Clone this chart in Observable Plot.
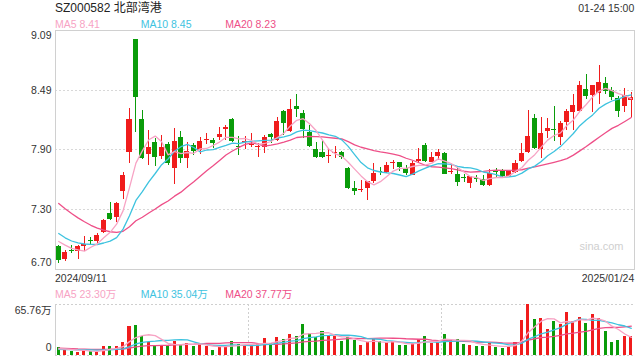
<!DOCTYPE html>
<html><head><meta charset="utf-8">
<script src="https://cdn.jsdelivr.net/npm/d3@7"></script>
<script src="https://cdn.jsdelivr.net/npm/@observablehq/plot@0.6"></script>
<style>
body{margin:0;background:#fff;}
#wrap{position:relative;width:640px;height:360px;overflow:hidden;font-family:"Liberation Sans",Arial,"Noto Sans CJK SC",sans-serif;}
.t{position:absolute;white-space:nowrap;font-size:10.5px;line-height:10.5px;z-index:2;color:#333;}
#wrap svg{position:absolute;left:0;}
</style></head><body><div id="wrap"></div>
<script>
// ---- data ----
const openP  = [6.93,6.80,6.885,6.88,6.93,6.99,6.98,7.07,7.26,7.22,7.48,7.87,9.00,8.20,7.85,7.97,7.83,7.95,7.71,8.02,
                7.81,7.94,7.89,7.99,7.99,8.02,8.10,8.20,7.93,7.97,7.94,7.92,7.92,8.05,7.99,8.28,8.08,8.33,8.26,8.07,
                7.90,7.87,7.83,7.86,7.87,7.71,7.51,7.49,7.51,7.58,7.675,7.67,7.76,7.77,7.71,7.64,7.78,7.94,7.77,7.83,
                7.86,7.67,7.65,7.615,7.56,7.605,7.60,7.54,7.675,7.68,7.63,7.67,7.78,7.87,8.21,7.90,8.08,8.095,8.02,8.17,
                8.27,8.28,8.50,8.44,8.46,8.56,8.49,8.41,8.33,8.39];
const highP  = [6.94,6.89,6.94,6.94,7.03,7.02,7.06,7.20,7.37,7.37,7.67,8.31,9.00,8.29,8.09,8.01,8.04,7.97,8.11,8.08,
                7.97,7.96,8.02,8.06,8.01,8.12,8.14,8.21,8.03,8.03,8.06,7.96,8.04,8.06,8.22,8.29,8.40,8.45,8.29,8.14,
                7.97,7.98,7.91,7.93,7.88,7.72,7.58,7.59,7.58,7.76,7.72,7.77,7.79,7.77,7.74,7.78,7.91,7.96,7.87,7.90,
                7.87,7.74,7.71,7.65,7.63,7.64,7.64,7.70,7.71,7.70,7.69,7.79,7.96,8.29,8.25,8.22,8.21,8.33,8.18,8.30,
                8.45,8.58,8.65,8.54,8.74,8.62,8.52,8.43,8.51,8.47];
const lowP   = [6.76,6.78,6.86,6.80,6.88,6.94,6.96,7.06,7.19,7.17,7.40,7.76,8.07,7.80,7.74,7.73,7.80,7.74,7.55,7.76,
                7.71,7.84,7.85,7.95,7.91,7.99,7.99,7.97,7.84,7.90,7.92,7.82,7.86,7.96,7.98,8.04,8.07,8.22,8.01,7.92,
                7.81,7.81,7.76,7.81,7.80,7.50,7.44,7.47,7.39,7.56,7.64,7.66,7.70,7.68,7.64,7.64,7.76,7.77,7.77,7.79,
                7.65,7.65,7.53,7.57,7.51,7.57,7.53,7.53,7.62,7.62,7.62,7.66,7.77,7.86,7.90,7.81,8.01,7.98,7.94,8.09,
                8.09,8.27,8.40,8.27,8.35,8.45,8.39,8.22,8.27,8.22];
const closeP = [6.79,6.87,6.88,6.93,6.95,6.98,7.04,7.19,7.20,7.36,7.64,8.20,8.42,7.81,7.92,7.82,7.92,7.76,7.98,7.81,
                7.88,7.88,7.98,8.00,7.96,8.05,8.12,7.98,7.92,7.98,7.95,7.93,8.02,8.02,8.18,8.16,8.30,8.30,8.10,7.93,
                7.82,7.82,7.84,7.87,7.82,7.51,7.48,7.50,7.58,7.66,7.67,7.74,7.77,7.72,7.66,7.76,7.80,7.78,7.82,7.87,
                7.65,7.68,7.57,7.61,7.63,7.60,7.54,7.66,7.67,7.63,7.68,7.76,7.86,8.03,7.91,8.06,8.11,8.09,8.16,8.28,
                8.34,8.54,8.43,8.54,8.57,8.48,8.42,8.28,8.44,8.42];
// volume, in 万 shares
const volume = [10.0,6.5,5.7,3.9,6.5,5.7,4.4,11.8,11.8,11.8,17.0,37.0,38.3,24.0,17.4,11.8,12.6,12.2,18.3,14.4,
                15.2,12.2,15.2,12.2,6.5,10.9,13.1,18.3,14.4,13.1,13.1,15.2,22.2,16.1,23.5,20.9,27.4,24.8,40.5,27.9,
                22.6,31.5,24.1,24.1,17.5,22.8,18.8,13.1,16.2,21.9,17.5,16.2,17.5,13.1,13.1,15.3,21.0,25.0,15.3,16.2,
                27.6,18.8,21.0,14.5,13.1,11.0,11.8,16.2,10.1,9.2,11.8,17.1,45.1,65.76,46.0,47.3,33.5,43.4,40.0,55.0,
                43.8,49.1,40.7,53.0,47.3,31.0,17.2,19.4,23.9,25.0];
// sessions before the first shown candle (only feed the moving averages)
const priorClose  = [7.90,7.85,7.80,7.74,7.68,7.62,7.58,7.52,7.47,7.44,7.30,7.20,7.12,7.06,7.02,7.05,7.04,7.01,7.01];
const priorVolume = [13,12,12.5,11,11.5,10.5,11,10.5,11,11,7,6.5,7,7,7,8,9,8.5,8];
const priceTicks = [9.09, 8.49, 7.90, 7.30, 6.70];
const volumeMax = 65.76;
const dateLabels = ["2024/09/11", "2025/01/24"];
const maLabels = ["MA5 8.41", "MA10 8.45", "MA20 8.23"];
const volMaLabels = ["MA5 23.30万", "MA10 35.04万", "MA20 37.77万"];
const title = "SZ000582 北部湾港";
const timeLabel = "01-24 15:00";

// ---- styles ----
const RED = "#f01c1c", GREEN = "#0a9c0a";
const C5 = "#f7a3c4", C10 = "#3ec3df", C20 = "#ee4f88";
const FONT = '"Liberation Sans", Arial, "Noto Sans CJK SC", sans-serif';

const N = closeP.length;
const idx = d3.range(N);
const col = i => (closeP[i] > openP[i] ? RED : (closeP[i] < openP[i] ? GREEN : RED));
function movingAvg(prior, vals, n) {
  const all = prior.concat(vals), P = prior.length;
  return idx.map(i => d3.mean(all.slice(i + P - n + 1, i + P + 1)));
}
const ma5 = movingAvg(priorClose, closeP, 5), ma10 = movingAvg(priorClose, closeP, 10), ma20 = movingAvg(priorClose, closeP, 20);
const vma5 = movingAvg(priorVolume, volume, 5), vma10 = movingAvg(priorVolume, volume, 10), vma20 = movingAvg(priorVolume, volume, 20);

const wrap = document.getElementById("wrap");

const bodyLo = i => Math.min(openP[i], closeP[i]);
const bodyHi = i => Math.max(Math.max(openP[i], closeP[i]), Math.min(openP[i], closeP[i]) + 0.01);

const main = Plot.plot({
  width: 640, height: 275,
  marginTop: 30, marginBottom: 6, marginLeft: 55, marginRight: 6,
  x: {domain: [-0.5, N - 0.5], axis: null},
  y: {domain: [priceTicks[4], priceTicks[0]], axis: null},
  style: {fontFamily: FONT, fontSize: "10.5px", color: "#333", background: "transparent"},
  marks: [
    Plot.ruleY(priceTicks.slice(1, 4), {stroke: "#d8d8d8", strokeDasharray: "2,2"}),
    Plot.frame({stroke: "#d0d0d0"}),
    Plot.ruleX(idx, {x: i => i, y1: i => lowP[i], y2: i => highP[i], stroke: col, shapeRendering: "crispEdges"}),
    Plot.rect(idx, {x1: i => i - 0.5, x2: i => i + 0.5, y1: bodyLo, y2: bodyHi, fill: col, insetLeft: 0.7, insetRight: 0.7, shapeRendering: "crispEdges"}),
    Plot.line(idx, {x: i => i, y: i => ma20[i], stroke: C20, strokeWidth: 1.3}),
    Plot.line(idx, {x: i => i, y: i => ma10[i], stroke: C10, strokeWidth: 1.3}),
    Plot.line(idx, {x: i => i, y: i => ma5[i], stroke: C5, strokeWidth: 1.3}),
    Plot.text(priceTicks.slice(1, 4), {y: d => d, text: d => d.toFixed(2), frameAnchor: "left", textAnchor: "end", dx: -4, fill: "#333"}),
    Plot.text([priceTicks[0]], {y: d => d, text: d => d.toFixed(2), frameAnchor: "left", textAnchor: "end", dx: -4, dy: 5, fill: "#333"}),
    Plot.text([priceTicks[4]], {y: d => d, text: d => d.toFixed(2), frameAnchor: "left", textAnchor: "end", dx: -4, dy: -7, fill: "#333"}),
    Plot.text(["sina.com"], {text: d => d, frameAnchor: "bottom-right", textAnchor: "end", dx: -11, dy: -20, fill: "#cfcfcf", fontSize: 11})
  ]
});
main.style.top = "0px";
wrap.appendChild(main);

const vol = Plot.plot({
  width: 640, height: 60,
  marginTop: 4, marginBottom: 5, marginLeft: 55, marginRight: 6,
  x: {domain: [-0.5, N - 0.5], axis: null},
  y: {domain: [0, volumeMax], axis: null},
  style: {fontFamily: FONT, fontSize: "10.5px", color: "#333", background: "transparent"},
  marks: [
    Plot.ruleY([0, volumeMax], {stroke: "#cfcfcf", strokeDasharray: "2,2"}),
    Plot.ruleX([N / 3 - 0.5, 2 * N / 3 - 0.5], {stroke: "#cfcfcf", strokeDasharray: "2,2"}),
    Plot.ruleX([-0.5], {stroke: "#d0d0d0"}),
    Plot.rect(idx, {x1: i => i - 0.5, x2: i => i + 0.5, y1: 0, y2: i => volume[i], fill: col, insetLeft: 1.7, insetRight: 1.7, shapeRendering: "crispEdges"}),
    Plot.line(idx, {x: i => i, y: i => vma20[i], stroke: C20, strokeWidth: 1.3}),
    Plot.line(idx, {x: i => i, y: i => vma10[i], stroke: C10, strokeWidth: 1.3}),
    Plot.line(idx, {x: i => i, y: i => vma5[i], stroke: C5, strokeWidth: 1.3}),
    Plot.text([volumeMax], {y: d => d, text: d => d.toFixed(2) + "万", frameAnchor: "left", textAnchor: "end", dx: -4, dy: 6.5, fill: "#333"}),
    Plot.text([0], {y: d => d, text: d => String(d), frameAnchor: "left", textAnchor: "end", dx: -4, dy: -8, fill: "#333"})
  ]
});
vol.style.top = "300px";
wrap.appendChild(vol);

function addText(txt, opts) {
  const d = document.createElement("div");
  d.className = "t";
  d.textContent = txt;
  const fs = opts.size || 10.5;
  d.style.fontSize = fs + "px";
  d.style.lineHeight = fs + "px";
  d.style.top = (opts.baseline - 0.8465 * fs) + "px";
  if (opts.left != null) d.style.left = opts.left + "px";
  if (opts.right != null) d.style.right = opts.right + "px";
  if (opts.color) d.style.color = opts.color;
  wrap.appendChild(d);
}
addText(title, {left: 55, baseline: 12.5, size: 12, color: "#222"});
addText(timeLabel, {right: 5.7, baseline: 11.7, color: "#333"});
const maCols = [C5, C10, C20], maX = [55, 140.7, 225.2];
maLabels.forEach((s, k) => addText(s, {left: maX[k], baseline: 28, color: maCols[k]}));
addText(dateLabels[0], {left: 55, baseline: 282.3, color: "#333"});
addText(dateLabels[1], {right: 5.7, baseline: 282.3, color: "#333"});
volMaLabels.forEach((s, k) => addText(s, {left: maX[k], baseline: 298.3, color: maCols[k]}));
</script></body></html>
